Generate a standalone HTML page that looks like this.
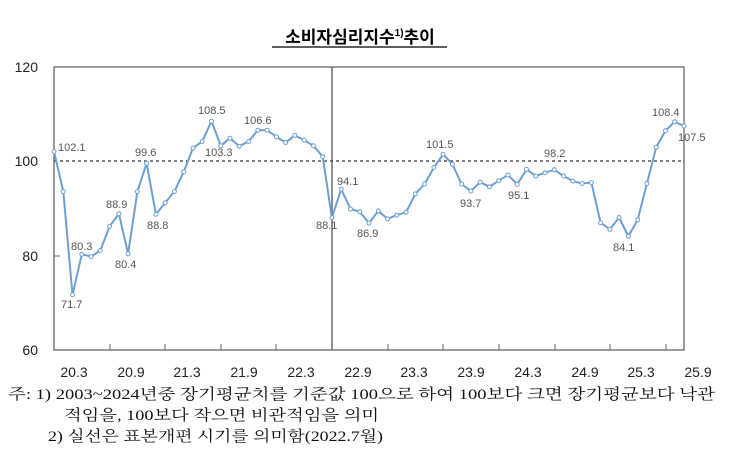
<!DOCTYPE html>
<html><head><meta charset="utf-8"><style>
html,body{margin:0;padding:0;background:#fff;}
svg{display:block;}
.ax{font-family:"Liberation Sans","Noto Sans CJK KR",sans-serif;font-size:14px;fill:#222;}
.dl{font-family:"Liberation Sans",sans-serif;font-size:11px;fill:#555;}
.nt{font-family:"Liberation Serif","Noto Serif CJK SC",serif;font-size:15px;fill:#111;}
</style></head><body>
<svg width="730" height="449" viewBox="0 0 730 449" xmlns="http://www.w3.org/2000/svg">
<text x="360" y="43" text-anchor="middle" style="font-family:'Liberation Sans','Noto Sans CJK KR',sans-serif;font-size:17px;font-weight:bold;fill:#000">소비자심리지수<tspan font-size="10" dy="-7">1)</tspan><tspan dy="7">추이</tspan></text>
<line x1="272" y1="47" x2="447" y2="47" stroke="#000" stroke-width="1.3"/>
<rect x="54" y="67" width="630" height="283" fill="none" stroke="#666" stroke-width="1.3"/>
<line x1="54" y1="161" x2="684" y2="161" stroke="#333" stroke-width="1.2" stroke-dasharray="3,3"/>
<line x1="332" y1="67" x2="332" y2="350" stroke="#555" stroke-width="1.3"/>
<g stroke="#666" stroke-width="1">
<line x1="110" y1="350" x2="110" y2="344"/><line x1="165" y1="350" x2="165" y2="344"/><line x1="221" y1="350" x2="221" y2="344"/><line x1="276" y1="350" x2="276" y2="344"/><line x1="388" y1="350" x2="388" y2="344"/><line x1="443" y1="350" x2="443" y2="344"/><line x1="499" y1="350" x2="499" y2="344"/><line x1="555" y1="350" x2="555" y2="344"/><line x1="610" y1="350" x2="610" y2="344"/><line x1="666" y1="350" x2="666" y2="344"/>
<line x1="54" y1="256" x2="60" y2="256"/>
</g>
<g class="ax" text-anchor="end">
<text x="38" y="72">120</text><text x="38" y="166">100</text><text x="38" y="261">80</text><text x="38" y="355">60</text>
</g>
<g class="ax" text-anchor="middle">
<text x="74" y="377">20.3</text><text x="131" y="377">20.9</text><text x="187" y="377">21.3</text><text x="244" y="377">21.9</text><text x="301" y="377">22.3</text><text x="358" y="377">22.9</text><text x="414" y="377">23.3</text><text x="471" y="377">23.9</text><text x="528" y="377">24.3</text><text x="585" y="377">24.9</text><text x="641" y="377">25.3</text><text x="698" y="377">25.9</text>
</g>
<polyline id="ln" fill="none" stroke="#6d9fd3" stroke-width="2" points=""/>
<g id="mk"></g>
<g class="dl">
<text x="58" y="151">102.1</text>
<text x="61" y="308">71.7</text>
<text x="71" y="250">80.3</text>
<text x="115" y="268">80.4</text>
<text x="106" y="208">88.9</text>
<text x="135" y="156">99.6</text>
<text x="147" y="229">88.8</text>
<text x="198" y="114">108.5</text>
<text x="205" y="156">103.3</text>
<text x="244" y="124">106.6</text>
<text x="316" y="229">88.1</text>
<text x="337" y="185">94.1</text>
<text x="357" y="237">86.9</text>
<text x="426" y="148">101.5</text>
<text x="460" y="207">93.7</text>
<text x="508" y="199">95.1</text>
<text x="544" y="157">98.2</text>
<text x="613" y="251">84.1</text>
<text x="652" y="116">108.4</text>
<text x="678" y="141">107.5</text>
</g>
<g class="nt">
<text x="8" y="399" textLength="707" lengthAdjust="spacingAndGlyphs">주: 1) 2003~2024년중 장기평균치를 기준값 100으로 하여 100보다 크면 장기평균보다 낙관</text>
<text x="64" y="420" textLength="315" lengthAdjust="spacingAndGlyphs">적임을, 100보다 작으면 비관적임을 의미</text>
<text x="48" y="441" textLength="335" lengthAdjust="spacingAndGlyphs">2) 실선은 표본개편 시기를 의미함(2022.7월)</text>
</g>
</svg>
<script>
var v=[102.1,93.6,71.7,80.3,79.8,81.1,86.2,88.9,80.4,93.6,99.6,88.8,91.2,93.6,97.8,102.8,104.2,108.5,103.3,104.9,103.2,104.2,106.6,106.6,105.2,104.0,105.5,104.5,103.3,101.0,88.1,
94.1,89.9,89.3,86.9,89.5,87.8,88.6,89.2,93.1,95.2,98.7,101.5,99.4,95.2,93.7,95.6,94.6,95.9,97.1,95.1,98.3,96.9,97.6,98.2,96.9,95.8,95.3,95.5,87.0,85.6,88.1,84.1,87.6,95.3,103.0,106.5,108.4,107.5];
var p=[],m='';
for(var i=0;i<v.length;i++){var x=54+i*630/68,y=67+(120-v[i])*283/60;p.push(x.toFixed(1)+','+y.toFixed(1));
m+='<circle cx="'+x.toFixed(1)+'" cy="'+y.toFixed(1)+'" r="2" fill="#fff" stroke="#6d9fd3" stroke-width="1"/>';}
document.getElementById('ln').setAttribute('points',p.join(' '));
document.getElementById('mk').innerHTML=m;
</script>
</body></html>
